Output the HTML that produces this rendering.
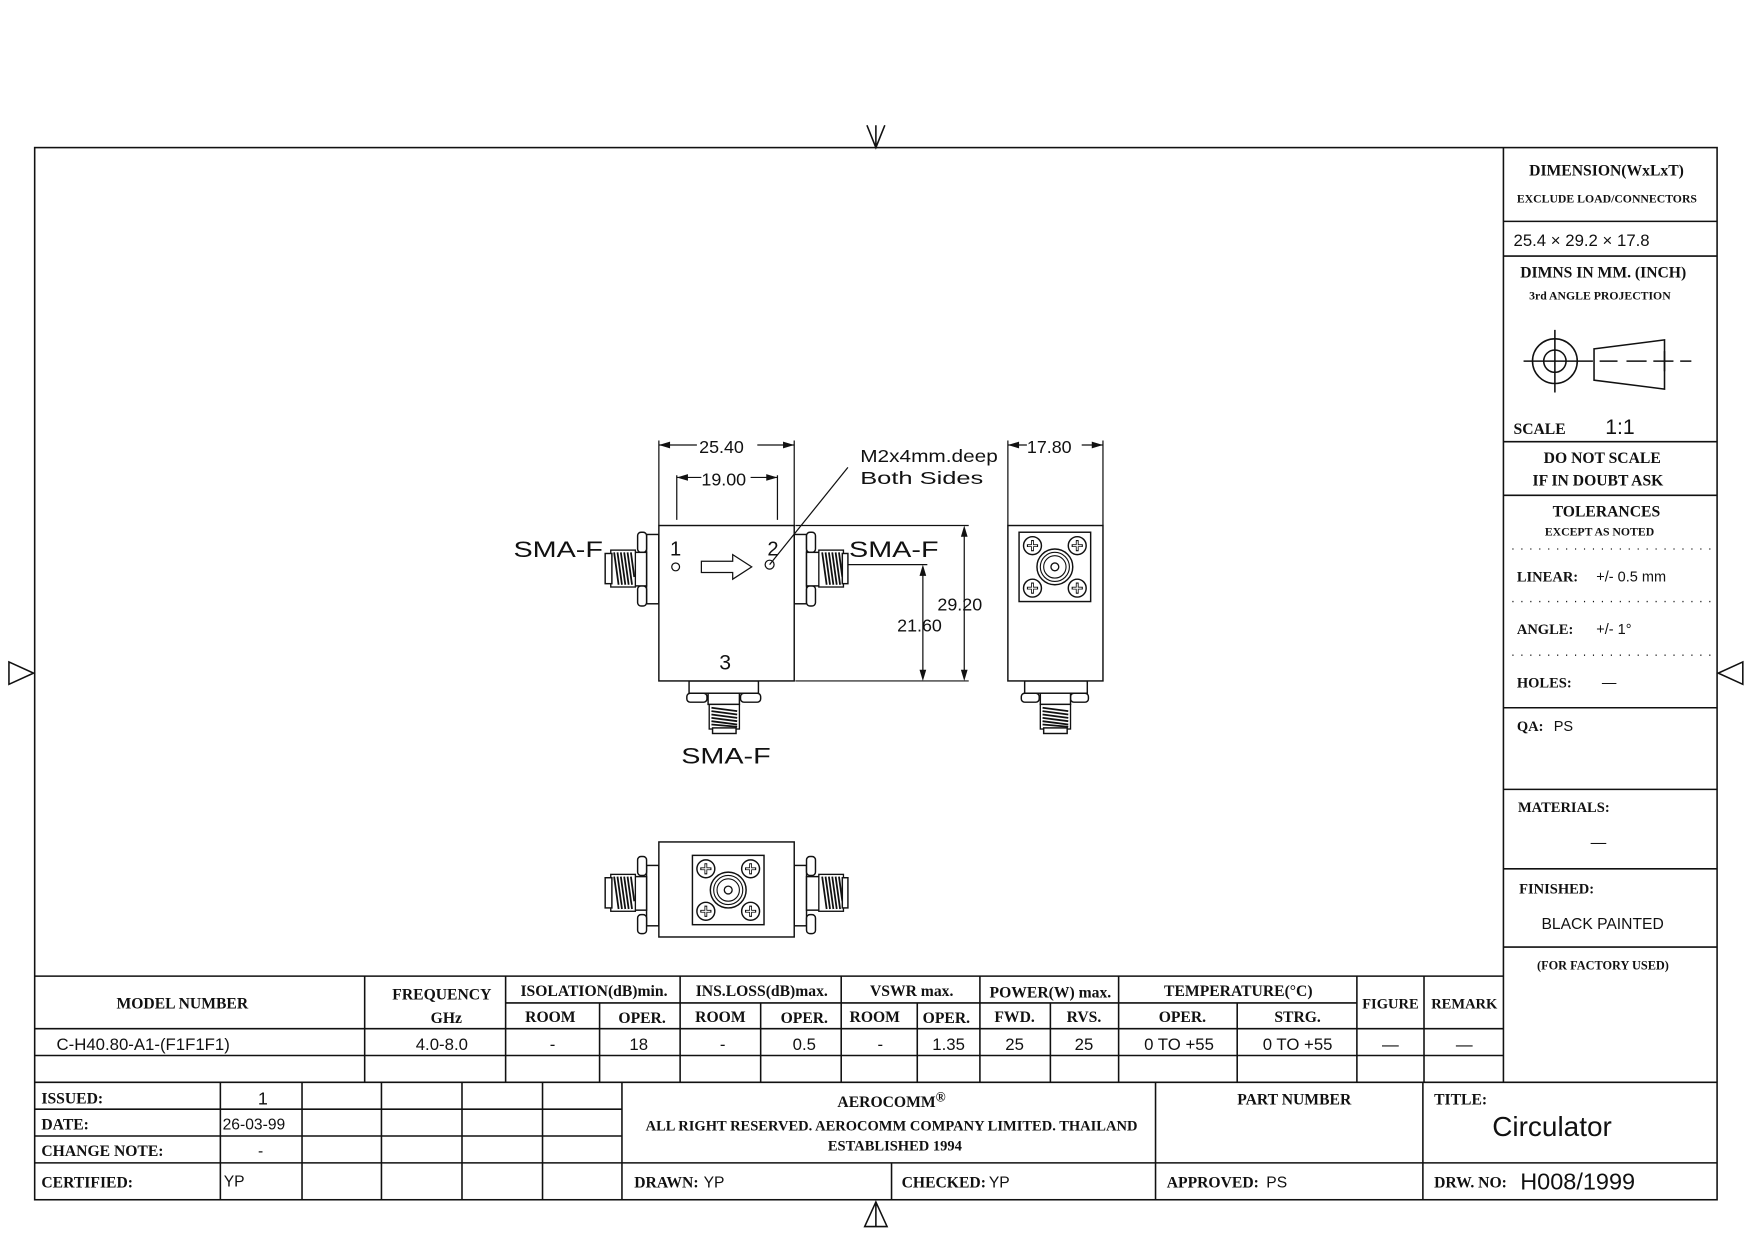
<!DOCTYPE html>
<html><head><meta charset="utf-8"><style>
html,body{margin:0;padding:0;background:#fff;}
svg{display:block;}
.s{font-family:"Liberation Serif",serif;font-weight:bold;fill:#111;}
.t{font-family:"Liberation Sans",sans-serif;fill:#111;}
</style></head><body>
<svg width="1754" height="1240" viewBox="0 0 1568 1109" preserveAspectRatio="none" xmlns="http://www.w3.org/2000/svg">
<defs>
<g id="scr"><circle r="8" fill="#fff" stroke="#111" stroke-width="1.3"/><path d="M-5 0H5M0 -5V5" stroke="#111" stroke-width="2.5"/><path d="M-4 0H4M0 -4V4" stroke="#fff" stroke-width="1"/></g>
<g id="flange">
<rect x="-32" y="-31" width="64" height="62" fill="#fff" stroke="#111" stroke-width="1.3"/>
<use href="#scr" x="-20" y="-19"/><use href="#scr" x="20" y="-19"/><use href="#scr" x="-20" y="19"/><use href="#scr" x="20" y="19"/>
<circle r="16" fill="none" stroke="#111" stroke-width="1.3"/><circle r="13" fill="none" stroke="#111" stroke-width="1"/><circle r="10" fill="none" stroke="#111" stroke-width="1"/><circle r="3.5" fill="none" stroke="#111" stroke-width="1.2"/>
</g>
<g id="threadH"><rect x="0" y="0" width="22" height="33" fill="#fff" stroke="#111" stroke-width="1.2"/>
<path d="M3 2l4 29M6 2l4 29M9 2l4 29M12 2l4 29M15 2l4 29M18 2l3 22" stroke="#111" stroke-width="1.6"/></g>
<g id="threadV"><rect x="0" y="0" width="27" height="22" fill="#fff" stroke="#111" stroke-width="1.2"/>
<path d="M2 3l23 3M2 6l23 3M2 9l23 3M2 12l23 3M2 15l23 3M2 18l23 2" stroke="#111" stroke-width="1.6"/></g>
</defs>
<g fill="none" stroke="#111" stroke-width="1.4">
<rect x="31" y="132" width="1504" height="941"/>
<path d="M775 112L783 132L791 112M783 112V132"/>
<path d="M8 592L30 602L8 612Z"/>
<path d="M1558 592L1536 602L1558 612Z"/>
<path d="M773 1097L783 1075L793 1097Z M783 1075V1097"/>
<path d="M1344 132V968M1344 198H1535M1344 229H1535M1344 395H1535M1344 443H1535M1344 633H1535M1344 706H1535M1344 777H1535M1344 847H1535"/>
<circle cx="1390" cy="323" r="20"/><circle cx="1390" cy="323" r="10"/>
<path d="M1362 323H1424M1390 295V351M1385 323H1395M1390 318V328"/>
<path d="M1425 312L1488 304V348L1425 340Z"/>
<path d="M1430 323H1446M1454 323H1472M1478 323H1496M1502 323H1512M1488 314V332" />
<path d="M31 873H1344M452 897H1213M31 920H1344M31 944H1344M31 968H1535"/>
<path d="M326 873V968M452 873V968M536 897V968M608 873V968M680 897V968M752 873V968M820 897V968M876 873V968M939 897V968M1000 873V968M1106 897V968M1213 873V968M1273 873V968"/>
<path d="M31 992H556M31 1016H556M31 1040H1535M197 968V1073M270 968V1073M341 968V1073M413 968V1073M485 968V1073M556 968V1073M797 1040V1073M1033 968V1073M1272 968V1073"/>
</g>
<g stroke="#111" stroke-width="1.2" stroke-dasharray="1 7" fill="none">
<path d="M1352 491H1530M1352 538H1530M1352 586H1530"/>
</g>

<g fill="#fff" stroke="#111" stroke-width="1.3">
<rect x="578" y="478" width="11" height="62"/>
<rect x="570" y="476" width="8" height="18" rx="3"/><rect x="570" y="524" width="8" height="18" rx="3"/>
<rect x="566" y="494" width="12" height="30"/>
<use href="#threadH" x="546" y="492"/>
<rect x="541" y="495" width="6" height="27"/>
<rect x="710" y="478" width="11" height="62"/>
<rect x="721" y="476" width="8" height="18" rx="3"/><rect x="721" y="524" width="8" height="18" rx="3"/>
<rect x="721" y="494" width="12" height="30"/>
<use href="#threadH" x="732" y="492"/>
<rect x="753" y="495" width="5" height="27"/>
<rect x="616" y="609" width="62" height="11"/>
<rect x="614" y="620" width="18" height="8" rx="3"/><rect x="662" y="620" width="18" height="8" rx="3"/>
<rect x="633" y="620" width="28" height="10"/>
<use href="#threadV" x="634" y="630"/>
<rect x="637" y="651" width="21" height="5"/>
<rect x="589" y="470" width="121" height="139"/>
</g>
<g fill="none" stroke="#111" stroke-width="1.1">
<circle cx="604" cy="507" r="3.5"/><circle cx="688" cy="505" r="4"/>
<path d="M627 502H655V496L672 507L655 518V512H627Z"/>
<path d="M589 470V394M710 470V394M589 398H623M677 398H710"/>
<path d="M605 465V425M695 465V425M605 427H627M671 427H695"/>
<path d="M711 470H866M711 609H866M862 474V606M758 505H829M825 509V606"/>
<path d="M688 505L758 418"/>
<path d="M901 470V394M986 470V394M901 398H918M967 398H986"/>
</g>
<g fill="#111">
<path d="M589 398l10-3v6zM710 398l-10-3v6zM605 427l10-3v6zM695 427l-10-3v6zM901 398l10-3v6zM986 398l-10-3v6z"/>
<path d="M862 470l-3 10h6zM862 609l-3-10h6zM825 505l-3 10h6zM825 609l-3-10h6z"/>
</g>

<g fill="#fff" stroke="#111" stroke-width="1.3">
<rect x="916" y="609" width="56" height="11"/>
<rect x="913" y="620" width="16" height="8" rx="3"/><rect x="957" y="620" width="16" height="8" rx="3"/>
<rect x="930" y="620" width="27" height="10"/>
<use href="#threadV" x="930" y="630"/>
<rect x="933" y="651" width="21" height="5"/>
<rect x="901" y="470" width="85" height="139"/>
</g>
<use href="#flange" x="943" y="507"/>

<g fill="#fff" stroke="#111" stroke-width="1.3">
<rect x="578" y="774" width="11" height="54"/>
<rect x="570" y="766" width="8" height="17" rx="3"/><rect x="570" y="818" width="8" height="17" rx="3"/>
<rect x="566" y="784" width="12" height="30"/>
<use href="#threadH" x="546" y="782"/>
<rect x="541" y="785" width="6" height="27"/>
<rect x="710" y="774" width="11" height="54"/>
<rect x="721" y="766" width="8" height="17" rx="3"/><rect x="721" y="818" width="8" height="17" rx="3"/>
<rect x="721" y="784" width="12" height="30"/>
<use href="#threadH" x="732" y="782"/>
<rect x="753" y="785" width="5" height="27"/>
<rect x="589" y="753" width="121" height="85"/>
</g>
<use href="#flange" x="651" y="796"/>

<g class="t" font-size="20">
<text x="459" y="498" textLength="80" lengthAdjust="spacingAndGlyphs">SMA-F</text>
<text x="759" y="498" textLength="80" lengthAdjust="spacingAndGlyphs">SMA-F</text>
<text x="609" y="683" textLength="80" lengthAdjust="spacingAndGlyphs">SMA-F</text>
<text x="599" y="497" font-size="18">1</text>
<text x="686" y="497" font-size="18">2</text>
<text x="643" y="599" font-size="19">3</text>
</g>
<g class="t" font-size="16">
<text x="625" y="405">25.40</text>
<text x="627" y="434">19.00</text>
<text x="918" y="405">17.80</text>
<text x="769" y="413" textLength="123" lengthAdjust="spacingAndGlyphs">M2x4mm.deep</text>
<text x="769" y="433" textLength="110" lengthAdjust="spacingAndGlyphs">Both Sides</text>
<text x="838" y="546">29.20</text>
<text x="802" y="565">21.60</text>
</g>

<g class="s">
<text x="1367" y="157" font-size="14">DIMENSION(WxLxT)</text>
<text x="1356" y="181" font-size="10.5">EXCLUDE LOAD/CONNECTORS</text>
<text x="1359" y="248" font-size="14">DIMNS IN MM. (INCH)</text>
<text x="1367" y="268" font-size="10.5">3rd ANGLE PROJECTION</text>
<text x="1353" y="388" font-size="14">SCALE</text>
<text x="1380" y="414" font-size="14">DO NOT SCALE</text>
<text x="1370" y="434" font-size="14">IF IN DOUBT ASK</text>
<text x="1388" y="462" font-size="14">TOLERANCES</text>
<text x="1381" y="479" font-size="10.5">EXCEPT AS NOTED</text>
<text x="1356" y="520" font-size="13">LINEAR:</text>
<text x="1356" y="567" font-size="13">ANGLE:</text>
<text x="1356" y="615" font-size="13">HOLES:</text>
<text x="1356" y="654" font-size="13">QA:</text>
<text x="1357" y="726" font-size="13">MATERIALS:</text>
<text x="1358" y="799" font-size="13">FINISHED:</text>
<text x="1374" y="867" font-size="11">(FOR FACTORY USED)</text>
</g>
<g class="t">
<text x="1353" y="220" font-size="15">25.4 × 29.2 × 17.8</text>
<text x="1435" y="388" font-size="19">1:1</text>
<text x="1427" y="520" font-size="13">+/-  0.5  mm</text>
<text x="1427" y="567" font-size="13">+/-  1°</text>
<text x="1432" y="615" font-size="13">—</text>
<text x="1389" y="654" font-size="13">PS</text>
<text x="1422" y="758" font-size="14">—</text>
<text x="1378" y="831" font-size="14">BLACK PAINTED</text>
</g>

<g class="s" font-size="14" text-anchor="middle">
<text x="163" y="902">MODEL NUMBER</text>
<text x="395" y="894">FREQUENCY</text>
<text x="399" y="915">GHz</text>
<text x="531" y="891">ISOLATION(dB)min.</text>
<text x="681" y="891">INS.LOSS(dB)max.</text>
<text x="815" y="891">VSWR max.</text>
<text x="939" y="892">POWER(W) max.</text>
<text x="1107" y="891">TEMPERATURE(°C)</text>
<text x="1243" y="902" font-size="13">FIGURE</text>
<text x="1309" y="902" font-size="13">REMARK</text>
<text x="492" y="914">ROOM</text>
<text x="574" y="915">OPER.</text>
<text x="644" y="914">ROOM</text>
<text x="719" y="915">OPER.</text>
<text x="782" y="914">ROOM</text>
<text x="846" y="915">OPER.</text>
<text x="907" y="914">FWD.</text>
<text x="969" y="914">RVS.</text>
<text x="1057" y="914">OPER.</text>
<text x="1160" y="914">STRG.</text>
</g>
<g class="t" font-size="15" text-anchor="middle">
<text x="128" y="939">C-H40.80-A1-(F1F1F1)</text>
<text x="395" y="939">4.0-8.0</text>
<text x="494" y="939">-</text>
<text x="571" y="939">18</text>
<text x="646" y="939">-</text>
<text x="719" y="939">0.5</text>
<text x="787" y="939">-</text>
<text x="848" y="939">1.35</text>
<text x="907" y="939">25</text>
<text x="969" y="939">25</text>
<text x="1054" y="939">0 TO +55</text>
<text x="1160" y="939">0 TO +55</text>
<text x="1243" y="939">—</text>
<text x="1309" y="939">—</text>
</g>

<g class="s" font-size="14">
<text x="37" y="987">ISSUED:</text>
<text x="37" y="1010">DATE:</text>
<text x="37" y="1034">CHANGE NOTE:</text>
<text x="37" y="1062">CERTIFIED:</text>
<text x="567" y="1062">DRAWN:</text>
<text x="806" y="1062">CHECKED:</text>
<text x="1043" y="1062">APPROVED:</text>
<text x="1282" y="1062">DRW. NO:</text>
<text x="1282" y="988">TITLE:</text>
<text x="1157" y="988" text-anchor="middle">PART NUMBER</text>
<text x="797" y="990" text-anchor="middle">AEROCOMM<tspan font-size="12" dy="-5">®</tspan></text>
<text x="797" y="1011" text-anchor="middle" font-size="13">ALL RIGHT RESERVED. AEROCOMM COMPANY LIMITED. THAILAND</text>
<text x="800" y="1029" text-anchor="middle" font-size="13">ESTABLISHED 1994</text>
</g>
<g class="t" font-size="14">
<text x="235" y="988" text-anchor="middle" font-size="16">1</text>
<text x="199" y="1010">26-03-99</text>
<text x="233" y="1034" text-anchor="middle">-</text>
<text x="200" y="1061">YP</text>
<text x="629" y="1062">YP</text>
<text x="884" y="1062">YP</text>
<text x="1132" y="1062">PS</text>
<text x="1359" y="1064" font-size="21">H008/1999</text>
<text x="1334" y="1016" font-size="25">Circulator</text>
</g>
</svg>
</body></html>
